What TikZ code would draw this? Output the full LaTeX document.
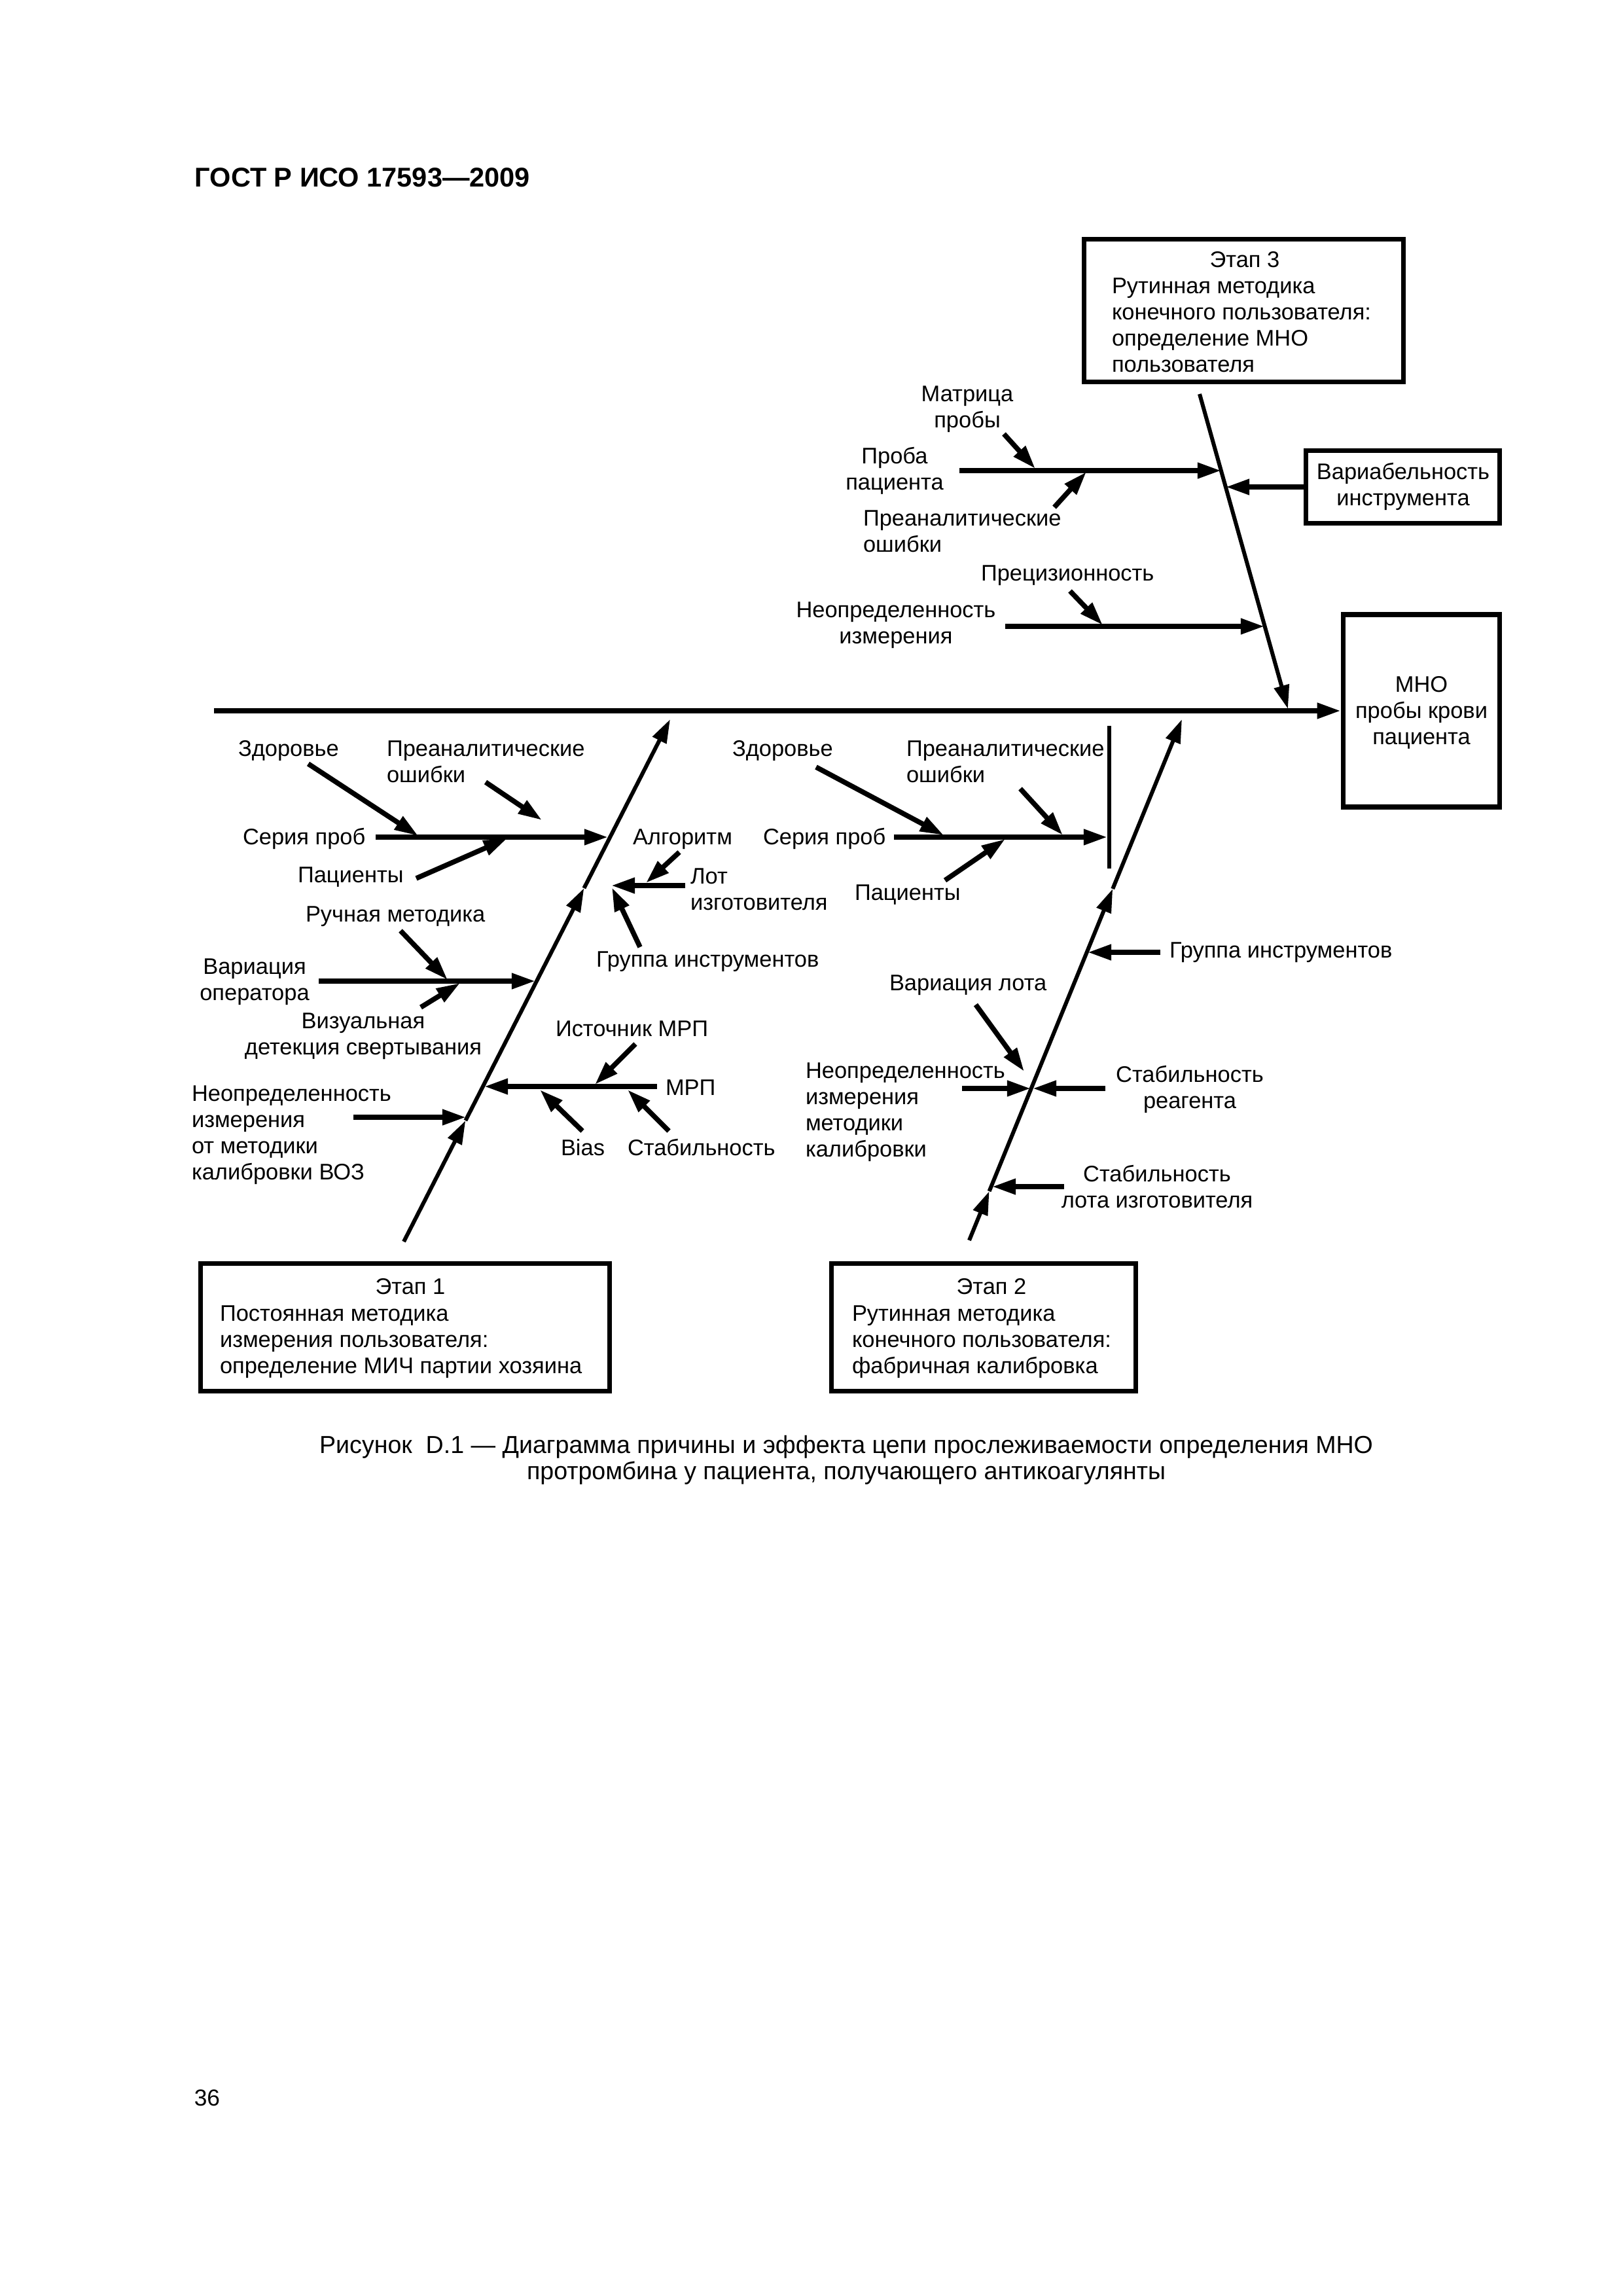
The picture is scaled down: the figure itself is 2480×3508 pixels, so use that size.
\documentclass[tikz,border=0pt]{standalone}
\usepackage{fontspec}
\setmainfont{Liberation Sans}
\usetikzlibrary{arrows.meta,calc}
\def\px{0.24094pt}
\newcommand\lblfont{\fontsize{8.3}{9.64}\selectfont}
\newcommand\tabL[1]{\begin{tabular}[t]{@{}l@{}}#1\end{tabular}}
\newcommand\tabC[1]{\begin{tabular}[t]{@{}c@{}}#1\end{tabular}}
\tikzset{
  lbl/.style={font=\lblfont, inner sep=0pt, outer sep=0pt, anchor=base west},
  lblc/.style={font=\lblfont, inner sep=0pt, outer sep=0pt, anchor=base},
  boxnode/.style={draw, line width=1.8pt, inner sep=0pt},
  br/.style={line width=1.85pt, -{Triangle[length=8.7pt,width=5.5pt]}},
  spn/.style={line width=1.45pt, -{Triangle[length=8.7pt,width=5.5pt]}},
  barline/.style={line width=1.4pt},
}
\begin{document}
\begin{tikzpicture}[x=\px, y=-\px]
\fill[white] (0,0) rectangle (2480,3508);
\useasboundingbox (0,0) rectangle (2480,3508);

% header
\node[font=\fontsize{10}{12}\selectfont\bfseries, inner sep=0pt, anchor=base west] (hdr) at (297,285) {ГОСТ Р ИСО 17593—2009};

% boxes
\node[boxnode, minimum width=488*\px, minimum height=218*\px] (e3) at (1900.5,474.5) {};
\node[boxnode, minimum width=239*\px, minimum height=294*\px] (mho) at (2172,1086) {};
\node[boxnode, minimum width=296*\px, minimum height=111*\px] (var) at (2143.5,744) {};
\node[boxnode, minimum width=625*\px, minimum height=195*\px] (e1) at (619,2028) {};
\node[boxnode, minimum width=465*\px, minimum height=195*\px] (e2) at (1503,2028) {};

% box texts
\node[lblc] (e3t) at (1902,408) {Этап 3};
\node[lbl] (e3b) at (1699,448) {\tabL{Рутинная методика\\конечного пользователя:\\определение МНО\\пользователя}};
\node[lblc] (mhot) at (2172,1057) {\tabC{МНО\\пробы крови\\пациента}};
\node[lblc] (vart) at (2144,732) {\tabC{Вариабельность\\инструмента}};
\node[lblc] (e1t) at (627,1977) {Этап 1};
\node[lbl] (e1b) at (336,2018) {\tabL{Постоянная методика\\измерения пользователя:\\определение МИЧ партии хозяина}};
\node[lblc] (e2t) at (1515,1977) {Этап 2};
\node[lbl] (e2b) at (1302,2018) {\tabL{Рутинная методика\\конечного пользователя:\\фабричная калибровка}};

% ---------- main spine
\coordinate (ms) at (327,1086);
\draw[br] (ms) -- (mho.west);

% ---------- stage 3 bone
\coordinate (s3a) at (1833,602);
\coordinate (s3b) at (1968,1083);
\draw[spn] (s3a) -- (s3b);

\node[lblc] (l31) at (1478,613) {\tabC{Матрица\\пробы}};
\node[lblc] (l32) at (1367,708) {\tabC{Проба\\пациента}};
\node[lbl] (l33) at (1319,803) {\tabL{Преаналитические\\ошибки}};
\node[lbl] (l34) at (1499,887) {Прецизионность};
\node[lblc] (l35) at (1369,943) {\tabC{Неопределенность\\измерения}};

\coordinate (a31s) at (1534,663);  \coordinate (a31e) at (1582,716);
\coordinate (b32s) at (1466,719);  \coordinate (b32e) at (1866,719);
\coordinate (a33s) at (1611,775);  \coordinate (a33e) at (1660,721);
\coordinate (avare) at (1873,744);
\coordinate (a34s) at (1635,903);  \coordinate (a34e) at (1685,955);
\coordinate (b35s) at (1536,957);  \coordinate (b35e) at (1932,957);
\draw[br] (a31s) -- (a31e);
\draw[br] (b32s) -- (b32e);
\draw[br] (a33s) -- (a33e);
\draw[br] (var.west) -- (avare);
\draw[br] (a34s) -- (a34e);
\draw[br] (b35s) -- (b35e);

% ---------- stage 1 bone
\coordinate (s1a) at (617,1897);
\coordinate (s1d) at (1024,1099);
\coordinate (s1b) at ($(s1a)!0.2318!(s1d)$);
\coordinate (s1c) at ($(s1a)!0.6767!(s1d)$);
\draw[spn] (s1a) -- (s1b);
\draw[spn] (s1b) -- (s1c);
\draw[spn] (s1c) -- (s1d);

\node[lbl] (l11) at (364,1155) {Здоровье};
\node[lbl] (l12) at (591,1155) {\tabL{Преаналитические\\ошибки}};
\node[lbl] (l13) at (371,1290) {Серия проб};
\node[lbl] (l14) at (455,1348) {Пациенты};
\node[lbl] (l15) at (467,1408) {Ручная методика};
\node[lblc] (l16) at (389,1488) {\tabC{Вариация\\оператора}};
\node[lblc] (l17) at (555,1571) {\tabC{Визуальная\\детекция свертывания}};
\node[lbl] (l18) at (293,1682) {\tabL{Неопределенность\\измерения\\от методики\\калибровки ВОЗ}};
\node[lbl] (l19) at (967,1290) {Алгоритм};
\node[lbl] (l110) at (1055,1350) {\tabL{Лот\\изготовителя}};
\node[lbl] (l111) at (911,1477) {Группа инструментов};
\node[lbl] (l112) at (849,1583) {Источник МРП};
\node[lbl] (l113) at (1017,1673) {МРП};
\node[lbl] (l114) at (857,1765) {Bias};
\node[lbl] (l115) at (959,1765) {Стабильность};

\coordinate (a11s) at (471,1167);  \coordinate (a11e) at (639,1277);
\coordinate (a12s) at (742,1195);  \coordinate (a12e) at (828,1253);
\coordinate (b13s) at (574,1279);  \coordinate (b13e) at (929,1279);
\coordinate (a14s) at (636,1342);  \coordinate (a14e) at (775,1281);
\coordinate (a15s) at (612,1422);  \coordinate (a15e) at (684,1497);
\coordinate (b16s) at (487,1499);  \coordinate (b16e) at (818,1499);
\coordinate (a17s) at (643,1539);  \coordinate (a17e) at (703,1502);
\coordinate (b18s) at (540,1707);  \coordinate (b18e) at (712,1707);
\coordinate (a19s) at (1038,1302); \coordinate (a19e) at (987,1349);
\coordinate (b110s) at (1047,1353); \coordinate (b110e) at (934,1353);
\coordinate (a111s) at (978,1447); \coordinate (a111e) at (935,1356);
\coordinate (a112s) at (971,1595); \coordinate (a112e) at (909,1657);
\coordinate (b113s) at (1004,1660); \coordinate (b113e) at (740,1660);
\coordinate (a114s) at (890,1728); \coordinate (a114e) at (825,1665);
\coordinate (a115s) at (1022,1728); \coordinate (a115e) at (959,1665);
\draw[br] (a11s) -- (a11e);
\draw[br] (a12s) -- (a12e);
\draw[br] (b13s) -- (b13e);
\draw[br] (a14s) -- (a14e);
\draw[br] (a15s) -- (a15e);
\draw[br] (b16s) -- (b16e);
\draw[br] (a17s) -- (a17e);
\draw[br] (b18s) -- (b18e);
\draw[br] (a19s) -- (a19e);
\draw[br] (b110s) -- (b110e);
\draw[br] (a111s) -- (a111e);
\draw[br] (a112s) -- (a112e);
\draw[br] (b113s) -- (b113e);
\draw[br] (a114s) -- (a114e);
\draw[br] (a115s) -- (a115e);

% ---------- stage 2 bone
\coordinate (s2a) at (1481,1895);
\coordinate (s2d) at (1806,1099);
\coordinate (s2b) at ($(s2a)!0.0942!(s2d)$);
\coordinate (s2c) at ($(s2a)!0.6746!(s2d)$);
\draw[spn] (s2a) -- (s2b);
\draw[spn] (s2b) -- (s2c);
\draw[spn] (s2c) -- (s2d);

\coordinate (vb1) at (1695,1109);
\coordinate (vb2) at (1695,1327);
\draw[barline] (vb1) -- (vb2);

\node[lbl] (l21) at (1119,1155) {Здоровье};
\node[lbl] (l22) at (1385,1155) {\tabL{Преаналитические\\ошибки}};
\node[lbl] (l23) at (1166,1290) {Серия проб};
\node[lbl] (l24) at (1306,1375) {Пациенты};
\node[lbl] (l25) at (1787,1463) {Группа инструментов};
\node[lbl] (l26) at (1359,1513) {Вариация лота};
\node[lbl] (l27) at (1231,1647) {\tabL{Неопределенность\\измерения\\методики\\калибровки}};
\node[lblc] (l28) at (1818,1653) {\tabC{Стабильность\\реагента}};
\node[lblc] (l29) at (1768,1805) {\tabC{Стабильность\\лота изготовителя}};

\coordinate (a21s) at (1247,1172); \coordinate (a21e) at (1442,1276);
\coordinate (a22s) at (1559,1205); \coordinate (a22e) at (1624,1276);
\coordinate (b23s) at (1366,1279); \coordinate (b23e) at (1692,1279);
\coordinate (a24s) at (1444,1345); \coordinate (a24e) at (1536,1282);
\coordinate (a25s) at (1773,1455); \coordinate (a25e) at (1662,1455);
\coordinate (a26s) at (1491,1535); \coordinate (a26e) at (1565,1637);
\coordinate (a27s) at (1470,1663); \coordinate (a27e) at (1575,1663);
\coordinate (a28s) at (1689,1663); \coordinate (a28e) at (1578,1663);
\coordinate (a29s) at (1626,1813); \coordinate (a29e) at (1516,1813);
\draw[br] (a21s) -- (a21e);
\draw[br] (a22s) -- (a22e);
\draw[br] (b23s) -- (b23e);
\draw[br] (a24s) -- (a24e);
\draw[br] (a25s) -- (a25e);
\draw[br] (a26s) -- (a26e);
\draw[br] (a27s) -- (a27e);
\draw[br] (a28s) -- (a28e);
\draw[br] (a29s) -- (a29e);

% caption
\node[font=\fontsize{9.05}{9.64}\selectfont, inner sep=0pt, anchor=base] (cap) at (1293,2220)
  {\tabC{Рисунок\ \ D.1 — Диаграмма причины и эффекта цепи прослеживаемости определения МНО\\протромбина у пациента, получающего антикоагулянты}};

% page number
\node[font=\fontsize{8.5}{10}\selectfont, inner sep=0pt, anchor=base west] (pg) at (296,3217) {36};
\end{tikzpicture}
\end{document}
